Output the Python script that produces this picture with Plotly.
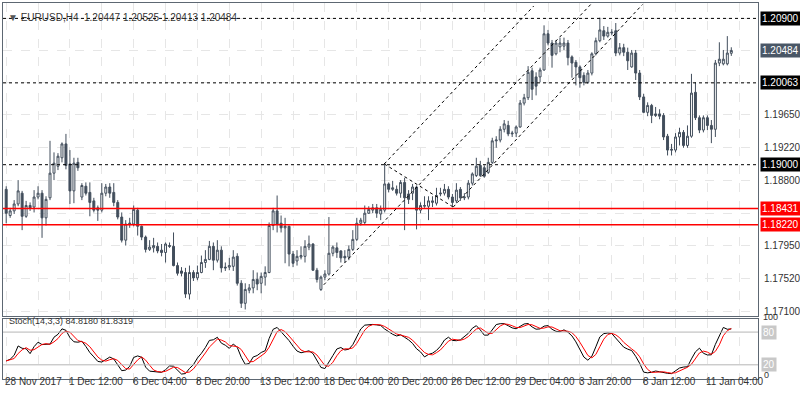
import plotly.graph_objects as go
import numpy as np
import pandas as pd

opens = [1.1868,1.1834,1.1840,1.1849,1.1863,1.1833,1.1847,1.1845,1.1858,1.1863,1.1831,1.1857,1.1889,1.1898,1.1909,1.1927,1.1901,1.1866,1.1903,1.1858,
1.1872,1.1864,1.1853,1.1844,1.1841,1.1863,1.1871,1.1864,1.1851,1.1832,1.1802,1.1823,1.1823,1.1841,1.1820,1.1806,1.1790,1.1792,1.1794,1.1789,
1.1786,1.1795,1.1794,1.1769,1.1762,1.1760,1.1732,1.1760,1.1753,1.1760,1.1773,1.1777,1.1794,1.1776,1.1789,1.1767,1.1767,1.1768,1.1781,1.1746,
1.1720,1.1737,1.1740,1.1751,1.1746,1.1754,1.1760,1.1821,1.1840,1.1824,1.1818,1.1820,1.1784,1.1775,1.1780,1.1781,1.1793,1.1797,1.1763,1.1738,
1.1754,1.1758,1.1785,1.1792,1.1788,1.1781,1.1780,1.1790,1.1803,1.1824,1.1825,1.1837,1.1841,1.1844,1.1836,1.1841,1.1875,1.1868,1.1868,1.1863,
1.1877,1.1862,1.1863,1.1871,1.1841,1.1846,1.1846,1.1851,1.1850,1.1862,1.1863,1.1868,1.1858,1.1853,1.1868,1.1857,1.1858,1.1876,1.1886,1.1899,
1.1896,1.1890,1.1903,1.1931,1.1932,1.1946,1.1951,1.1940,1.1941,1.1949,1.1980,1.1987,1.2022,1.2014,1.2014,1.2023,1.2070,1.2058,1.2044,1.2053,
1.2054,1.2058,1.2040,1.2033,1.2027,1.2016,1.2007,1.2019,1.2044,1.2061,1.2074,1.2067,1.2071,1.2074,1.2045,1.2052,1.2046,1.2027,1.2045,1.2019,
1.1988,1.1968,1.1977,1.1966,1.1966,1.1964,1.1937,1.1920,1.1919,1.1936,1.1942,1.1925,1.1937,1.1994,1.1961,1.1945,1.1961,1.1951,1.1946,1.2032,
1.2031,1.2031,1.20447]
highs = [1.1872,1.1844,1.1854,1.1880,1.1866,1.1853,1.1851,1.1867,1.1872,1.1867,1.1859,1.1931,1.1916,1.1915,1.1929,1.1940,1.1919,1.1909,1.1909,1.1876,
1.1877,1.1877,1.1857,1.1847,1.1876,1.1875,1.1876,1.1876,1.1854,1.1838,1.1828,1.1831,1.1847,1.1844,1.1821,1.1808,1.1802,1.1805,1.1799,1.1797,
1.1799,1.1799,1.1812,1.1773,1.1767,1.1766,1.1769,1.1763,1.1769,1.1782,1.1789,1.1801,1.1799,1.1802,1.1794,1.1773,1.1779,1.1789,1.1785,1.1750,
1.1746,1.1745,1.1763,1.1760,1.1760,1.1768,1.1825,1.1844,1.1860,1.1834,1.1831,1.1821,1.1788,1.1789,1.1794,1.1802,1.1808,1.1798,1.1766,1.1756,
1.1763,1.1832,1.1795,1.1799,1.1789,1.1789,1.1795,1.1815,1.1831,1.1831,1.1847,1.1846,1.1849,1.1849,1.1847,1.1902,1.1877,1.1879,1.1873,1.1880,
1.1883,1.1867,1.1875,1.1873,1.1851,1.1859,1.1859,1.1859,1.1870,1.1870,1.1875,1.1872,1.1862,1.1876,1.1871,1.1863,1.1880,1.1890,1.1909,1.1905,
1.1899,1.1909,1.1935,1.1937,1.1950,1.1958,1.1957,1.1944,1.1951,1.1984,1.1992,1.2028,1.2026,1.2020,1.2026,1.2081,1.2075,1.2062,1.2062,1.2065,
1.2065,1.2062,1.2042,1.2036,1.2029,1.2020,1.2023,1.2046,1.2065,1.2091,1.2080,1.2079,1.2076,1.2084,1.2058,1.2057,1.2052,1.2049,1.2049,1.2023,
1.1992,1.1981,1.1979,1.1975,1.1972,1.1967,1.1940,1.1927,1.1941,1.1948,1.1945,1.1951,1.2018,1.2007,1.1964,1.1964,1.1964,1.1958,1.2036,1.2059,
1.2049,1.2067,1.20525]
lows = [1.1824,1.1831,1.1836,1.1846,1.1815,1.1831,1.1840,1.1838,1.1855,1.1805,1.1821,1.1854,1.1880,1.1893,1.1903,1.1894,1.1849,1.1850,1.1892,1.1854,
1.1860,1.1833,1.1838,1.1827,1.1838,1.1859,1.1857,1.1846,1.1829,1.1799,1.1795,1.1818,1.1820,1.1808,1.1802,1.1786,1.1788,1.1786,1.1785,1.1781,
1.1773,1.1792,1.1768,1.1756,1.1755,1.1727,1.1725,1.1749,1.1750,1.1759,1.1766,1.1776,1.1763,1.1773,1.1760,1.1762,1.1763,1.1762,1.1743,1.1714,
1.1712,1.1733,1.1733,1.1737,1.1733,1.1743,1.1759,1.1815,1.1812,1.1812,1.1772,1.1768,1.1767,1.1769,1.1777,1.1773,1.1789,1.1762,1.1747,1.1736,
1.1750,1.1756,1.1781,1.1779,1.1773,1.1773,1.1776,1.1788,1.1801,1.1821,1.1823,1.1836,1.1837,1.1831,1.1828,1.1838,1.1864,1.1866,1.1860,1.1857,
1.1815,1.1849,1.1854,1.1816,1.1837,1.1844,1.1828,1.1845,1.1847,1.1859,1.1860,1.1855,1.1846,1.1850,1.1853,1.1854,1.1855,1.1873,1.1884,1.1884,
1.1883,1.1888,1.1901,1.1922,1.1929,1.1942,1.1937,1.1936,1.1936,1.1948,1.1977,1.1984,1.1984,1.1990,1.2007,1.2022,1.2055,1.2026,1.2042,1.2046,
1.2049,1.2029,1.2013,1.2003,1.2000,1.2003,1.2005,1.2016,1.2042,1.2059,1.2062,1.2065,1.2068,1.2041,1.2042,1.2041,1.2023,1.2026,1.2010,1.1984,
1.1967,1.1963,1.1954,1.1962,1.1959,1.1932,1.1912,1.1912,1.1916,1.1925,1.1922,1.1922,1.1935,1.1958,1.1941,1.1942,1.1945,1.1928,1.1936,1.2028,
1.2029,1.2029,1.20413]
closes = [1.1837,1.1840,1.1849,1.1866,1.1833,1.1847,1.1844,1.1858,1.1863,1.1831,1.1855,1.1889,1.1902,1.1911,1.1927,1.1899,1.1866,1.1902,1.1896,1.1873,
1.1863,1.1851,1.1841,1.1841,1.1863,1.1871,1.1863,1.1851,1.1832,1.1802,1.1823,1.1824,1.1842,1.1820,1.1806,1.1790,1.1793,1.1795,1.1788,1.1786,
1.1797,1.1794,1.1769,1.1759,1.1759,1.1732,1.1760,1.1753,1.1760,1.1773,1.1777,1.1794,1.1776,1.1789,1.1766,1.1766,1.1769,1.1780,1.1746,1.1720,
1.1738,1.1740,1.1751,1.1745,1.1755,1.1760,1.1821,1.1840,1.1823,1.1818,1.1820,1.1784,1.1772,1.1781,1.1782,1.1794,1.1797,1.1763,1.1751,1.1754,
1.1758,1.1785,1.1793,1.1786,1.1779,1.1779,1.1790,1.1803,1.1824,1.1828,1.1837,1.1842,1.1844,1.1837,1.1842,1.1875,1.1868,1.1870,1.1863,1.1877,
1.1857,1.1855,1.1871,1.1841,1.1847,1.1847,1.1853,1.1853,1.1860,1.1863,1.1868,1.1858,1.1851,1.1867,1.1857,1.1858,1.1876,1.1888,1.1898,1.1886,
1.1885,1.1903,1.1931,1.1932,1.1946,1.1953,1.1940,1.1941,1.1949,1.1980,1.1987,1.2020,1.1998,1.2002,1.2023,1.2070,1.2058,1.2042,1.2058,1.2058,
1.2058,1.2039,1.2032,1.2027,1.2013,1.2007,1.2019,1.2044,1.2061,1.2075,1.2067,1.2072,1.2072,1.2045,1.2052,1.2046,1.2035,1.2045,1.2019,1.1988,
1.1968,1.1977,1.1964,1.1964,1.1963,1.1936,1.1919,1.1919,1.1936,1.1942,1.1925,1.1937,1.1993,1.1961,1.1945,1.1961,1.1951,1.1946,1.2032,1.2037,
1.2037,1.2045,1.20484]

date_labels = ["28 Nov 2017","1 Dec 12:00","6 Dec 04:00","8 Dec 20:00","13 Dec 12:00","18 Dec 04:00",
               "20 Dec 20:00","26 Dec 12:00","29 Dec 04:00","3 Jan 20:00","8 Jan 12:00","11 Jan 04:00"]
date_label_idx = [0,16,32,48,64,80,96,112,128,144,160,176]

price_ticks = [1.17100,1.17520,1.17950,1.18370,1.18800,1.19220,1.19650,1.20063,1.20484,1.20900]
dashed_levels = [1.20900,1.20063,1.19000]
red_levels = [1.18431,1.18220]
boxed_levels = [(1.20900,"black","white"),(1.20484,"#4a5766","white"),(1.20063,"black","white"),
                (1.19000,"black","white"),(1.18431,"#ff0000","white"),(1.18220,"#ff0000","white")]
plain_levels = [1.19650,1.19220,1.18800,1.17950,1.17520,1.17100]
trend_lines = [(94.9,1.1901,132.4,1.2106),(79.7,1.1744,146.7,1.2108),
               (112.2,1.1845,159.7,1.2108),(94.9,1.1901,112.2,1.1845)]

n = len(closes)
x = list(range(n))
df = pd.DataFrame({"h":highs,"l":lows,"c":closes})
hh = df.h.rolling(14, min_periods=1).max()
ll = df.l.rolling(14, min_periods=1).min()
num = (df.c-ll).rolling(3, min_periods=1).sum()
den = (hh-ll).rolling(3, min_periods=1).sum()
k = 100*num/den
d = k.rolling(3, min_periods=1).mean()

CANDLE = "#424e5c"
FONT = "Liberation Sans"
DASH = "3px,3px"
fig = go.Figure()
fig.add_trace(go.Candlestick(x=x, open=opens, high=highs, low=lows, close=closes,
    increasing=dict(line=dict(color=CANDLE, width=1), fillcolor="white"),
    decreasing=dict(line=dict(color=CANDLE, width=1), fillcolor=CANDLE),
    whiskerwidth=0, xaxis="x", yaxis="y", showlegend=False, hoverinfo="skip"))
fig.add_trace(go.Scatter(x=x, y=k, mode="lines", line=dict(color="black", width=1),
                         xaxis="x2", yaxis="y2", showlegend=False))
fig.add_trace(go.Scatter(x=x, y=d, mode="lines", line=dict(color="#ff0000", width=1),
                         xaxis="x2", yaxis="y2", showlegend=False))

xr = [-0.8, 188.7]
grid = "#e6e6e6"
H = 400.0
def py(p):  # pixel row -> paper fraction
    return 1 - p / H
fig.update_layout(
    width=800, height=400, margin=dict(l=3, r=42, t=0, b=0),
    paper_bgcolor="white", plot_bgcolor="white",
    font=dict(family=FONT, size=10, color="#333"),
    xaxis=dict(domain=[0,1], range=xr, rangeslider=dict(visible=False), showticklabels=False,
               tickvals=list(range(0,192,8)), showgrid=True, gridcolor=grid, griddash="dash",
               zeroline=False, showline=True, mirror=True, linecolor="#5d6772", anchor="y"),
    yaxis=dict(domain=[py(316), py(3)], range=[1.17035,1.2110], side="right",
               tickvals=price_ticks, showticklabels=False, showgrid=True, gridcolor=grid,
               griddash="dash", zeroline=False, showline=True, mirror=True, linecolor="#5d6772"),
    xaxis2=dict(domain=[0,1], range=xr, showticklabels=False, tickvals=list(range(0,192,8)),
                showgrid=True, gridcolor=grid, griddash="dash", zeroline=False,
                showline=True, mirror=True, linecolor="#5d6772", anchor="y2"),
    yaxis2=dict(domain=[py(379), py(319)], range=[-6,104], side="right", showticklabels=False,
                showgrid=False, zeroline=False, showline=True, mirror=True, linecolor="#5d6772",
                anchor="x2"),
)
for lv in dashed_levels:
    fig.add_shape(type="line", xref="x", yref="y", x0=xr[0], x1=xr[1], y0=lv, y1=lv,
                  line=dict(color="black", width=1, dash=DASH))
for lv in red_levels:
    fig.add_shape(type="line", xref="x", yref="y", x0=xr[0], x1=xr[1], y0=lv, y1=lv,
                  line=dict(color="#ff0000", width=1.3))
for (a0,p0,a1,p1) in trend_lines:
    fig.add_shape(type="line", xref="x", yref="y", x0=a0, y0=p0, x1=a1, y1=p1,
                  line=dict(color="black", width=1, dash=DASH))
for lv in (80, 20):
    fig.add_shape(type="line", xref="x2", yref="y2", x0=xr[0], x1=xr[1], y0=lv, y1=lv,
                  line=dict(color="#b5b5b5", width=1))
for lv in plain_levels:
    fig.add_annotation(x=1, xref="paper", y=lv, yref="y", xanchor="left", xshift=4,
                       text=f"{lv:.5f}", showarrow=False, font=dict(size=10, color="#333"))
for lv, bg, fc in boxed_levels:
    fig.add_annotation(x=1, xref="paper", y=lv, yref="y", xanchor="left", xshift=2,
                       text=f"{lv:.5f}", showarrow=False, bgcolor=bg, borderpad=1,
                       font=dict(size=10, color=fc))
fig.add_annotation(x=1, xref="paper", y=100, yref="y2", xanchor="left", xshift=3, yshift=4,
                   text="100", showarrow=False, font=dict(size=9, color="#333"))
fig.add_annotation(x=1, xref="paper", y=80, yref="y2", xanchor="left", xshift=3,
                   text="80", showarrow=False, bgcolor="#c8c8c8", font=dict(size=10, color="white"))
fig.add_annotation(x=1, xref="paper", y=20, yref="y2", xanchor="left", xshift=3,
                   text="20", showarrow=False, bgcolor="#c8c8c8", font=dict(size=10, color="white"))
fig.add_annotation(x=1, xref="paper", y=0, yref="y2", xanchor="left", xshift=4, yshift=1,
                   text="0", showarrow=False, font=dict(size=9, color="#333"))
for i, lab in zip(date_label_idx, date_labels):
    fig.add_annotation(x=i, xref="x2", y=py(389), yref="paper", xanchor="left", xshift=-3,
                       text=lab, showarrow=False, font=dict(size=10, color="#333"))
    fig.add_shape(type="line", xref="x2", yref="paper", x0=i, x1=i, y0=py(379), y1=py(383),
                  line=dict(color="#5d6772", width=1))
fig.add_annotation(x=0.004, xref="paper", y=py(10), yref="paper", xanchor="left",
                   text="<span style='color:#555'>▼</span> EURUSD,H4  1.20447 1.20525 1.20413 1.20484",
                   showarrow=False, font=dict(size=10, color="#333"))
fig.add_annotation(x=0.005, xref="paper", y=py(328), yref="paper", xanchor="left",
                   text="Stoch(14,3,3) 84.8180 81.8319", showarrow=False,
                   font=dict(size=9, color="#333"))
fig.write_html("out.html", config={"displayModeBar": False},
               post_script="document.body.style.margin='0';")
